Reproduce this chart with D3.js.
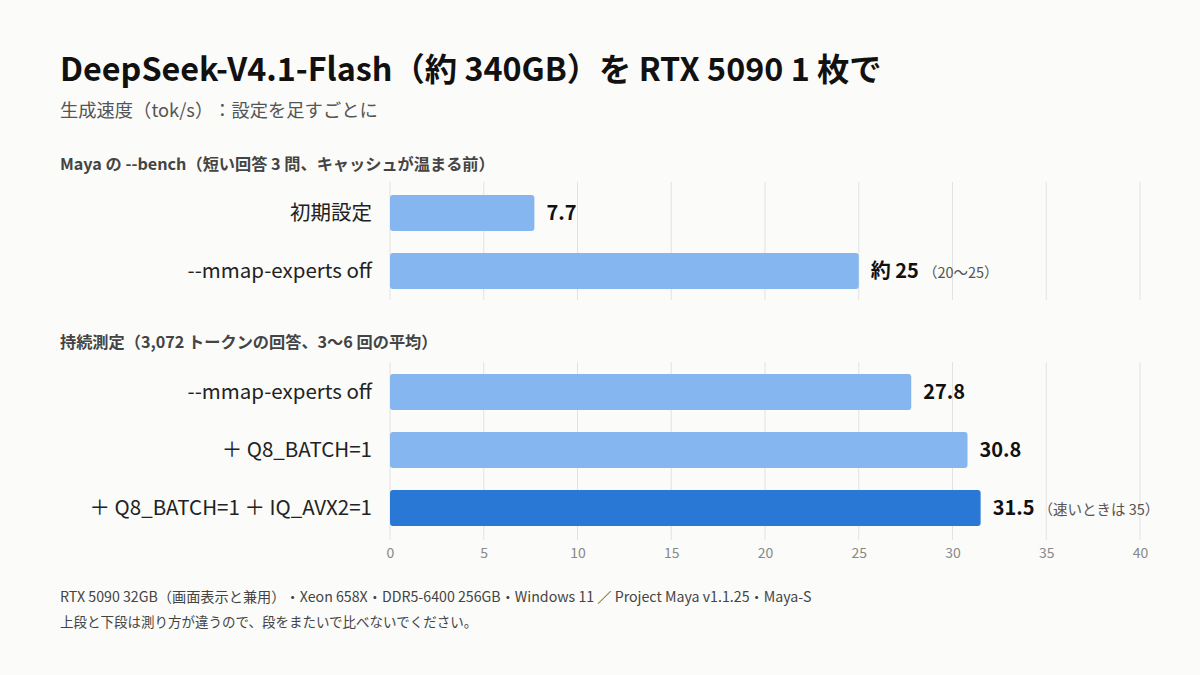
<!DOCTYPE html>
<html>
<head>
<meta charset="utf-8">
<script src="https://cdn.jsdelivr.net/npm/d3@7"></script>
<style>
  body { margin: 0; background: #fbfbf9; }
  svg { font-family: "Noto Sans CJK JP", sans-serif; text-spacing-trim: space-all; }
</style>
</head>
<body>
<svg id="chart"></svg>
<script>
// data
const benchLabels = ["初期設定", "--mmap-experts off"];
const benchValues = [7.7, 25];
const benchValueText = ["7.7", "約 25"];
const benchNotes = ["", "（20〜25）"];

const sustLabels = ["--mmap-experts off", "＋ Q8_BATCH=1", "＋ Q8_BATCH=1 ＋ IQ_AVX2=1"];
const sustValues = [27.8, 30.8, 31.5];
const sustValueText = ["27.8", "30.8", "31.5"];
const sustNotes = ["", "", "（速いときは 35）"];
const sustHighlight = [false, false, true];

const xTicks = [0, 5, 10, 15, 20, 25, 30, 35, 40];

const width = 1200;
const height = 675;

const svg = d3.select("#chart")
  .attr("width", width)
  .attr("height", height);

svg.append("rect").attr("width", width).attr("height", height).attr("fill", "#fbfbf9");

const xScale = d3.scaleLinear().domain([0, 40]).range([390, 1140]);

// titles
svg.append("text")
  .attr("x", 60).attr("y", 81)
  .attr("font-size", 32.3).attr("font-weight", 600).attr("fill", "#111")
  .text("DeepSeek-V4.1-Flash（約 340GB）を RTX 5090 1 枚で");
svg.append("text")
  .attr("x", 60).attr("y", 117)
  .attr("font-size", 18.3).attr("fill", "#555")
  .text("生成速度（tok/s）：設定を足すごとに");

function panel(title, titleY, labels, values, valueText, notes, highlight, top, bottom, firstCenter) {
  svg.append("text")
    .attr("x", 60).attr("y", titleY)
    .attr("font-size", 16.2).attr("font-weight", 700).attr("fill", "#444")
    .text(title);

  // grid
  svg.append("g").selectAll("line")
    .data(xTicks)
    .join("line")
    .attr("x1", d => xScale(d)).attr("x2", d => xScale(d))
    .attr("y1", top).attr("y2", bottom)
    .attr("stroke", "#e2e2e2").attr("stroke-width", 1);

  const step = 58;
  const yScale = d3.scaleBand()
    .domain(labels)
    .range([firstCenter - step / 2, firstCenter - step / 2 + step * labels.length])
    .paddingInner(0.38).paddingOuter(0.19);

  const g = svg.append("g");
  g.selectAll("rect.bar")
    .data(labels)
    .join("rect")
    .attr("class", "bar")
    .attr("x", xScale(0))
    .attr("y", d => yScale(d))
    .attr("width", (d, i) => xScale(values[i]) - xScale(0))
    .attr("height", yScale.bandwidth())
    .attr("rx", 3)
    .attr("fill", (d, i) => highlight && highlight[i] ? "#2a78d6" : "#86b6f0");

  g.selectAll("text.cat")
    .data(labels)
    .join("text")
    .attr("class", "cat")
    .attr("x", 372)
    .attr("y", d => yScale(d) + yScale.bandwidth() / 2)
    .attr("dy", "0.35em")
    .attr("text-anchor", "end")
    .attr("font-size", 20.5).attr("fill", "#222")
    .text(d => d);

  const vt = g.selectAll("text.val")
    .data(labels)
    .join("text")
    .attr("class", "val")
    .attr("x", (d, i) => xScale(values[i]) + 12)
    .attr("y", d => yScale(d) + yScale.bandwidth() / 2)
    .attr("dy", "0.35em")
    .attr("font-size", 20).attr("font-weight", 700).attr("fill", "#111")
    .text((d, i) => valueText[i]);

  vt.append("tspan")
    .attr("font-size", 14.5).attr("font-weight", 400).attr("fill", "#555")
    .attr("dx", 4)
    .text((d, i) => notes[i]);

  return yScale;
}

panel("Maya の --bench（短い回答 3 問、キャッシュが温まる前）", 170,
  benchLabels, benchValues, benchValueText, benchNotes, null, 182, 300, 213);
panel("持続測定（3,072 トークンの回答、3〜6 回の平均）", 348,
  sustLabels, sustValues, sustValueText, sustNotes, sustHighlight, 362, 540, 392);

// x axis
const xAxis = d3.axisBottom(xScale).tickValues(xTicks).tickSize(0).tickPadding(0);
svg.append("g")
  .attr("transform", "translate(0, 545)")
  .call(xAxis)
  .call(g => g.select(".domain").remove())
  .call(g => g.selectAll("text")
    .attr("font-family", "\"Noto Sans CJK JP\", sans-serif")
    .attr("font-size", 14).attr("fill", "#888").attr("dy", "0.9em"));

// footer
svg.append("text")
  .attr("x", 60).attr("y", 602)
  .attr("font-size", 14.2).attr("fill", "#444")
  .text("RTX 5090 32GB（画面表示と兼用）・Xeon 658X・DDR5-6400 256GB・Windows 11 ／ Project Maya v1.1.25・Maya-S");
svg.append("text")
  .attr("x", 60).attr("y", 627)
  .attr("font-size", 13.5).attr("fill", "#444")
  .text("上段と下段は測り方が違うので、段をまたいで比べないでください。");
</script>
</body>
</html>
